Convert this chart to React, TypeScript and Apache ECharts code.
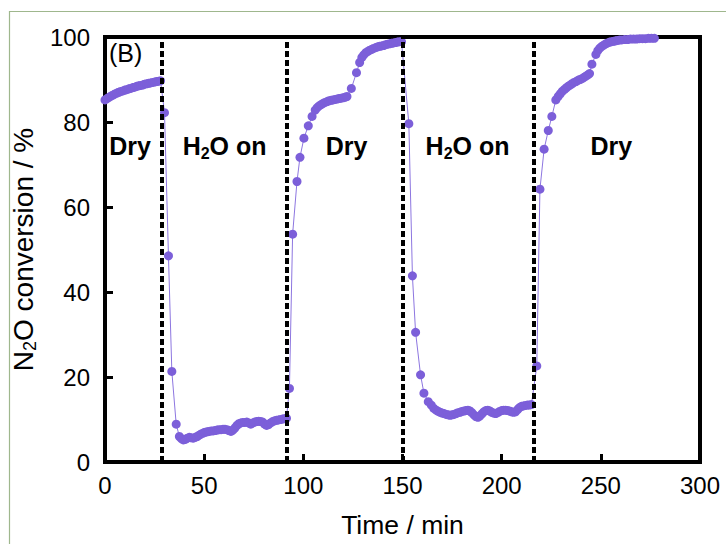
import React, { useEffect, useRef } from "react";
import * as echarts from "echarts";

// Phase data: [time (min), N2O conversion (%)]
const dry1: [number, number][] = [
  [0, 85.2], [1, 85.5], [2, 85.8], [3, 86.1], [4, 86.3], [5, 86.6], [6, 86.8], [7, 87.0],
  [8, 87.2], [9, 87.3], [10, 87.5], [11, 87.6], [12, 87.8], [13, 87.9], [14, 88.1], [15, 88.2],
  [16, 88.4], [17, 88.5], [18, 88.6], [19, 88.7], [20, 88.9], [21, 89.0], [22, 89.1], [23, 89.2],
  [24, 89.3], [25, 89.4], [26, 89.5], [27, 89.6], [28, 89.7],
];
const wet1: [number, number][] = [
  [30, 82.2], [32, 48.5], [33.7, 21.3], [35.9, 8.9],
  [37.5, 6.0], [38.5, 5.5], [39.5, 5.2], [40.5, 5.3], [41.5, 5.6], [42.5, 5.8], [43.5, 5.7],
  [44.5, 5.6], [45.5, 5.8], [46.5, 6.0], [47.5, 6.3], [48.5, 6.6], [49.5, 6.8], [50.5, 7.0],
  [51.5, 7.1], [52.5, 7.2], [53.5, 7.3], [54.5, 7.3], [55.5, 7.4], [56.5, 7.5], [57.5, 7.6],
  [58.5, 7.6], [59.5, 7.7], [60.5, 7.7], [61.5, 7.6], [62.5, 7.4], [63.5, 7.2], [64.5, 7.5],
  [65.5, 8.0], [66.5, 8.6], [67.5, 9.0], [68.5, 9.2], [69.5, 9.3], [70.5, 9.3], [71.5, 9.4],
  [72.5, 9.2], [73.5, 8.9], [74.5, 9.2], [75.5, 9.4], [76.5, 9.5], [77.5, 9.6], [78.5, 9.5],
  [79.5, 9.4], [80.5, 8.9], [81.5, 8.6], [82.5, 8.8], [83.5, 9.2], [84.5, 9.5], [85.5, 9.7],
  [86.5, 9.8], [87.5, 9.9], [88.5, 10.0], [89.5, 10.1], [90.5, 10.2], [91.5, 10.3],
];
const dry2: [number, number][] = [
  [93, 17.3], [94.6, 53.6], [96.8, 66.0], [98.3, 71.7], [100.3, 76.2], [102.5, 79.1],
  [104.4, 81.3], [106, 82.8], [107, 83.4], [108, 83.8], [109, 84.1], [110, 84.4], [111, 84.6],
  [112, 84.8], [113, 85.0], [114, 85.1], [115, 85.2], [116, 85.3], [117, 85.4], [118, 85.5],
  [119, 85.6], [120, 85.7], [121, 85.8], [122, 86.0], [124.2, 87.9], [126.8, 91.6], [128.4, 94.0],
  [129.5, 95.2], [130.5, 95.8], [131.5, 96.3], [132.5, 96.6], [133.5, 96.9], [134.5, 97.1],
  [135.5, 97.3], [136.5, 97.5], [137.5, 97.7], [138.5, 97.8], [139.5, 97.9], [140.5, 98.0],
  [141.5, 98.2], [142.5, 98.3], [143.5, 98.4], [144.5, 98.5], [145.5, 98.6], [146.5, 98.7],
  [147.5, 98.8], [148.5, 98.9], [149.5, 98.9],
];
const wet2: [number, number][] = [
  [153.2, 79.6], [155, 43.8], [156.6, 30.5], [159.1, 20.5], [160.8, 16.2], [163, 14.2],
  [164.5, 13.4], [165.8, 12.6], [167, 12.2], [168, 11.9], [169, 11.7], [170, 11.5], [171, 11.4],
  [172, 11.2], [173, 11.1], [174, 11.0], [175, 11.1], [176, 11.2], [177, 11.4], [178, 11.6],
  [179, 11.7], [180, 11.9], [181, 12.0], [182, 12.1], [183, 12.2], [184, 12.0], [185, 11.6],
  [186, 11.1], [187, 10.7], [188, 10.5], [189, 10.8], [190, 11.3], [191, 11.8], [192, 12.1],
  [193, 12.2], [194, 12.0], [195, 11.7], [196, 11.5], [197, 11.4], [198, 11.6], [199, 11.9],
  [200, 12.1], [201, 12.2], [202, 12.2], [203, 12.1], [204, 12.0], [205, 11.8], [206, 11.7],
  [207, 11.8], [208, 12.3], [209, 12.8], [210, 13.1], [211, 13.2], [212, 13.3], [213, 13.4],
  [214, 13.4], [215, 13.5],
];
const dry3: [number, number][] = [
  [217.7, 22.6], [219.3, 64.2], [221.4, 73.6], [223.5, 78.0], [225.3, 81.3], [227.3, 85.2],
  [228.5, 86.0], [229.5, 86.6], [230.5, 87.2], [231.5, 87.6], [232.5, 88.0], [233.5, 88.4],
  [234.5, 88.7], [235.5, 89.0], [236.5, 89.3], [237.5, 89.5], [238.5, 89.8], [239.5, 90.0],
  [240.5, 90.2], [241.5, 90.5], [242.5, 90.8], [243.5, 91.1], [244.3, 91.4], [245.5, 93.6],
  [247.5, 95.9], [248.5, 96.8], [249.5, 97.4], [250.5, 97.8], [251.5, 98.1], [252.5, 98.4],
  [253.5, 98.6], [254.5, 98.8], [255.5, 98.9], [256.5, 99.0], [257.5, 99.1], [258.5, 99.2],
  [259.5, 99.3], [260.5, 99.3], [262, 99.4], [263.5, 99.4], [265, 99.5], [266.5, 99.5],
  [268, 99.5], [269.5, 99.6], [271, 99.6], [272.5, 99.6], [274, 99.7], [275.5, 99.7], [277, 99.7],
];

// Times at which the gas feed was switched (dashed lines)
const switchTimes = [28.5, 91.8, 150.3, 216];

// Phase annotations: label text and [time, conversion] anchor
const phaseNames = ["{b|Dry}", "{b|H}{s|2}{b|O on}", "{b|Dry}", "{b|H}{s|2}{b|O on}", "{b|Dry}"];
const phaseTimes = [12.6, 60.3, 121.8, 182.8, 255.3];
const phaseLevel = 74.3;

const xTicks = { min: 0, max: 300, interval: 50 };
const yTicks = { min: 0, max: 100, interval: 20 };

const FONT = "'Liberation Sans', Arial, sans-serif";

export default function App() {
  const ref = useRef<HTMLDivElement>(null);
  useEffect(() => {
    if (!ref.current) return;
    const chart = echarts.init(ref.current, undefined, { renderer: "svg" });
    const data = [...dry1, ...wet1, ...dry2, ...wet2, ...dry3];
    chart.setOption({
      animation: false,
      backgroundColor: "#ffffff",
      textStyle: { fontFamily: FONT },
      graphic: [
        {
          type: "rect",
          shape: { x: 9.5, y: 11.5, width: 800, height: 600 },
          style: { fill: "none", stroke: "#9fb78d", lineWidth: 1.2 },
          silent: true,
        },
        {
          type: "text",
          left: 109,
          top: 40,
          style: { text: "(B)", fontSize: 25, fontFamily: FONT, fill: "#000" },
          silent: true,
        },
      ],
      grid: {
        left: 105,
        right: 26,
        top: 37,
        bottom: 82,
        show: true,
        borderColor: "#000",
        borderWidth: 4,
        backgroundColor: "transparent",
      },
      xAxis: {
        type: "value",
        ...xTicks,
        name: "Time / min",
        nameLocation: "middle",
        nameGap: 49,
        nameTextStyle: { fontSize: 26.5, color: "#000", fontFamily: FONT },
        axisLine: { show: true, lineStyle: { color: "#000", width: 4 } },
        axisTick: { show: true, inside: true, length: 8, lineStyle: { color: "#000", width: 3 } },
        axisLabel: { fontSize: 24, color: "#000", margin: 11, fontFamily: FONT },
        splitLine: { show: false },
      },
      yAxis: {
        type: "value",
        ...yTicks,
        name: "{a|N}{s|2}{a|O conversion / %}",
        nameLocation: "middle",
        nameGap: 59,
        nameTextStyle: {
          color: "#000",
          fontFamily: FONT,
          rich: {
            a: { fontSize: 28, color: "#000", fontFamily: FONT, lineHeight: 32 },
            s: { fontSize: 18, color: "#000", fontFamily: FONT, lineHeight: 18, verticalAlign: "bottom" },
          },
        },
        axisLine: { show: true, lineStyle: { color: "#000", width: 4 } },
        axisTick: { show: true, inside: true, length: 8, lineStyle: { color: "#000", width: 3 } },
        axisLabel: { fontSize: 24, color: "#000", margin: 15, fontFamily: FONT },
        splitLine: { show: false },
      },
      series: [
        {
          type: "line",
          data,
          symbol: "circle",
          symbolSize: 9,
          showAllSymbol: true,
          itemStyle: { color: "#7c5fd9" },
          lineStyle: { color: "#8d76e0", width: 1 },
          z: 3,
          markLine: {
            silent: true,
            symbol: ["none", "none"],
            label: { show: false },
            lineStyle: { color: "#000", width: 4, type: [6, 3] },
            data: switchTimes.map((t) => ({ xAxis: t })),
            z: 4,
          },
          markPoint: {
            silent: true,
            symbol: "circle",
            symbolSize: 0,
            label: {
              show: true,
              position: "inside",
              color: "#000",
              rich: {
                b: { fontSize: 25, fontWeight: "bold", color: "#000", fontFamily: FONT, lineHeight: 30 },
                s: {
                  fontSize: 16,
                  fontWeight: "bold",
                  color: "#000",
                  fontFamily: FONT,
                  lineHeight: 16,
                  verticalAlign: "bottom",
                },
              },
            },
            data: phaseNames.map((n, i) => ({
              coord: [phaseTimes[i], phaseLevel],
              label: { formatter: n },
            })),
          },
        },
      ],
    });
    return () => chart.dispose();
  }, []);
  return (
    <div
      ref={ref}
      style={{ position: "fixed", left: 0, top: 0, width: 726, height: 544, background: "#fff" }}
    />
  );
}
